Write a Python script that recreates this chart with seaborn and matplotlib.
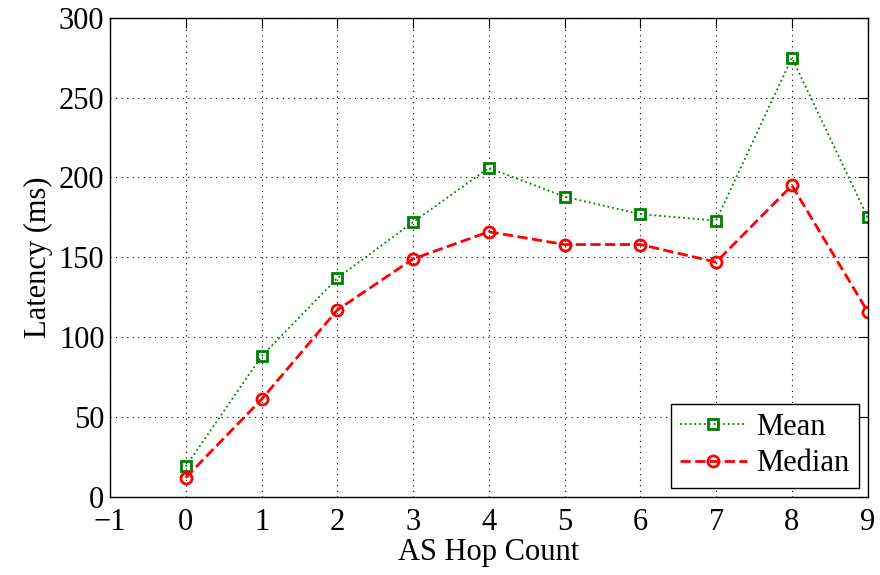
import numpy as np
import pandas as pd
import matplotlib
matplotlib.use('Agg')
import matplotlib.pyplot as plt
import seaborn as sns

hops = [0, 1, 2, 3, 4, 5, 6, 7, 8, 9]
mean_latency = [19, 88, 137, 172, 206, 188, 177, 173, 275, 175]
median_latency = [12, 61, 117, 149, 166, 158, 158, 147, 195, 116]

sns.set_style('white')
plt.rcParams['font.family'] = ['Liberation Serif', 'DejaVu Serif']
plt.rcParams['text.color'] = 'black'
plt.rcParams['axes.labelcolor'] = 'black'
plt.rcParams['xtick.color'] = 'black'
plt.rcParams['ytick.color'] = 'black'

df = pd.DataFrame({'hop': hops, 'Mean': mean_latency, 'Median': median_latency})

fig = plt.figure(figsize=(8.8, 5.75), dpi=100)
ax = fig.add_axes([0.125, 0.136, 0.861, 0.833])

sns.lineplot(data=df, x='hop', y='Mean', ax=ax, color='green', linestyle=':',
             linewidth=1.3, marker='s', markersize=7, markerfacecolor='none',
             markeredgecolor='green', markeredgewidth=2, label='Mean')
sns.lineplot(data=df, x='hop', y='Median', ax=ax, color='red', linestyle='--',
             linewidth=2, dashes=(4, 3), marker='o', markersize=8, markerfacecolor='none',
             markeredgecolor='red', markeredgewidth=2, label='Median')

ax.set_xlim(-1, 9)
ax.set_ylim(0, 300)
ax.set_xticks(range(-1, 10))
ax.set_xticklabels(['\u22121'] + [str(i) for i in range(0, 10)])
ax.set_yticks(range(0, 301, 50))
ax.grid(True, color='black', linestyle=(0, (1, 4)), linewidth=0.8)
ax.tick_params(direction='in', length=7, top=True, right=True, labelsize=22, width=0.8)
ax.tick_params(axis='x', pad=8)
ax.tick_params(axis='y', pad=4)
for s in ax.spines.values():
    s.set_color('black')
    s.set_linewidth(1)
ax.set_xlabel('AS Hop Count', fontsize=22, labelpad=1)
ax.set_ylabel('Latency (ms)', fontsize=22, labelpad=4)

leg = ax.legend(loc='lower right', fontsize=22, fancybox=False, framealpha=1,
                edgecolor='black', borderaxespad=0.3, handlelength=2.2,
                handletextpad=0.3, borderpad=0.3, labelspacing=0.25)
leg.get_frame().set_linewidth(1)

fig.savefig('out.png', dpi=100)
